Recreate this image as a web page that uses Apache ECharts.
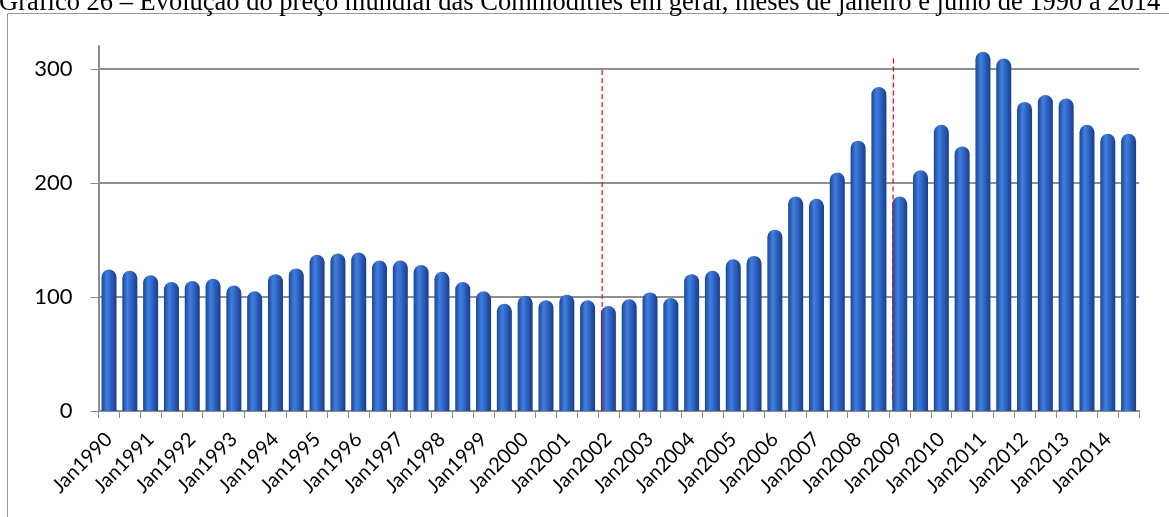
<!DOCTYPE html>
<html>
<head>
<meta charset="utf-8">
<script src="https://cdn.jsdelivr.net/npm/echarts@6/dist/echarts.min.js"></script>
<style>
html,body{margin:0;padding:0;background:#fff;}
#chart{width:1169px;height:517px;}
</style>
</head>
<body>
<div id="chart"></div>
<script>
const titleText = 'Gráfico 26 – Evolução do preço mundial das Commodities em geral, meses de janeiro e julho de 1990 a 2014';
const categories = [
 'Jan1990','Jul1990','Jan1991','Jul1991','Jan1992','Jul1992','Jan1993','Jul1993','Jan1994','Jul1994',
 'Jan1995','Jul1995','Jan1996','Jul1996','Jan1997','Jul1997','Jan1998','Jul1998','Jan1999','Jul1999',
 'Jan2000','Jul2000','Jan2001','Jul2001','Jan2002','Jul2002','Jan2003','Jul2003','Jan2004','Jul2004',
 'Jan2005','Jul2005','Jan2006','Jul2006','Jan2007','Jul2007','Jan2008','Jul2008','Jan2009','Jul2009',
 'Jan2010','Jul2010','Jan2011','Jul2011','Jan2012','Jul2012','Jan2013','Jul2013','Jan2014','Jul2014'
];
const priceIndex = [
 124,123,119,113,114,116,110,105,120,125,
 137,138,139,132,132,128,122,113,105,94,
 101,97,102,97,92,98,104,99,120,123,
 133,136,159,188,186,209,237,284,188,211,
 251,232,315,309,271,277,274,251,243,243
];
const yTicks = [0,100,200,300];
const gridValues = [100,200,300];
// red dashed markers: [category position, top value]
const markerA = [[24.2,0],[24.2,301]];
const markerB = [[38.15,10],[38.2,311]];

const chart = echarts.init(document.getElementById('chart'));
const barGradient = new echarts.graphic.LinearGradient(0,0,1,0,[
  {offset:0,color:'#1b449a'},
  {offset:0.35,color:'#3f7fe0'},
  {offset:0.6,color:'#2e65c6'},
  {offset:1,color:'#173c8c'}
]);
chart.setOption({
  animation:false,
  title:{
    text:titleText,
    left:-6, top:-15,
    textStyle:{fontFamily:'Liberation Serif',fontWeight:'normal',fontSize:26.5,color:'#000'}
  },
  graphic:[{
    type:'rect', silent:true, z:-10,
    shape:{x:7.5,y:13.5,width:1300,height:700},
    style:{fill:'none',stroke:'#9a9a9a',lineWidth:1}
  }],
  grid:{left:98.6,right:30,top:46,bottom:106},
  xAxis:[{
    type:'category', data:categories,
    axisLine:{lineStyle:{color:'#8c8c8c',width:2}},
    axisTick:{show:true,interval:0,length:7,lineStyle:{color:'#8c8c8c',width:1}},
    axisLabel:{interval:1,rotate:45,fontFamily:'Lato',fontSize:20,color:'#000',margin:25}
  },{
    type:'value', min:0, max:50, show:false
  }],
  yAxis:{
    type:'value', min:0, max:320,
    axisLine:{show:true,lineStyle:{color:'#8c8c8c',width:2}},
    axisTick:{show:true,length:8,customValues:yTicks,lineStyle:{color:'#8c8c8c',width:1}},
    axisLabel:{customValues:yTicks,fontFamily:'Lato',fontSize:22,color:'#000',margin:26},
    splitLine:{show:false}
  },
  series:[{
    type:'bar', data:priceIndex, barWidth:15, z:3,
    itemStyle:{color:barGradient,borderRadius:[7.5,7.5,0,0]},
    markLine:{
      silent:true, symbol:'none', z:1,
      label:{show:false},
      lineStyle:{color:'#8f8f8f',type:'solid',width:2},
      data:gridValues.map(v=>({yAxis:v}))
    }
  },{
    type:'line', xAxisIndex:1, data:markerA, symbol:'none', z:4,
    lineStyle:{color:'#ff0000',width:1.2,type:[5,3]}
  },{
    type:'line', xAxisIndex:1, data:markerB, symbol:'none', z:4,
    lineStyle:{color:'#ff0000',width:1.2,type:[5,3]}
  }]
});
</script>
</body>
</html>
